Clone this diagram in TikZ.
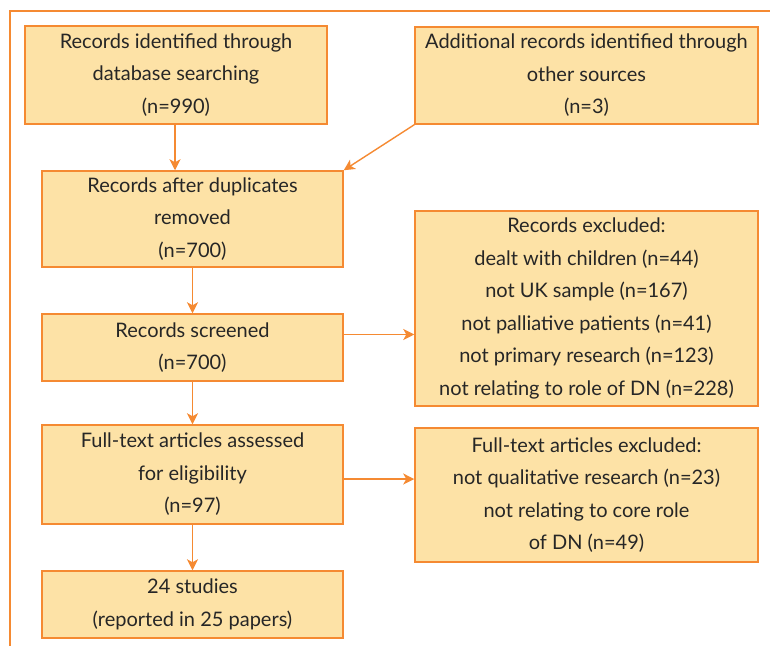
\documentclass[tikz,border=0pt]{standalone}
\usepackage{fontspec}
\setmainfont{Lato}
\usetikzlibrary{arrows.meta,calc}
\definecolor{boxfill}{HTML}{FDE2A6}
\definecolor{boxline}{HTML}{F58A32}
\definecolor{txt}{HTML}{262626}
\tikzset{
  flowbox/.style={draw=boxline, fill=boxfill, line width=1.5pt, rectangle, inner sep=0pt,
    align=center, text=txt, font=\fontsize{20}{32.5}\selectfont},
  flowarrow/.style={draw=boxline, line width=1.4pt, -{Stealth[length=11pt,width=11pt,inset=3pt]}},
  framestyle/.style={draw=boxline, line width=1.3pt}
}
\begin{document}
\begin{tikzpicture}[x=1pt,y=-1pt]
\useasboundingbox (0,0) rectangle (770,646);
\draw[framestyle] (10,646) -- (10,11) -- (770,11);
\node[flowbox, minimum width=302pt, minimum height=98pt] (b1) at (176,75)
  {Records identified through\\database searching\\(n=990)};
\node[flowbox, minimum width=343pt, minimum height=97pt] (b2) at (586.5,75.5)
  {Additional records identified through\\other sources\\(n=3)};
\node[flowbox, minimum width=301pt, minimum height=96pt] (b3) at (192.5,219)
  {Records after duplicates\\removed\\(n=700)};
\node[flowbox, minimum width=301pt, minimum height=67pt] (b4) at (192.5,347.5)
  {Records screened\\(n=700)};
\node[flowbox, minimum width=343pt, minimum height=195pt] (b5) at (586.5,308.5)
  {Records excluded:\\dealt with children (n=44)\\not UK sample (n=167)\\not palliative patients (n=41)\\not primary research (n=123)\\not relating to role of DN (n=228)};
\node[flowbox, minimum width=301pt, minimum height=99pt] (b6) at (192.5,474.5)
  {Full-text articles assessed\\for eligibility\\(n=97)};
\node[flowbox, minimum width=343pt, minimum height=134pt] (b7) at (586.5,495)
  {Full-text articles excluded:\\not qualitative research (n=23)\\not relating to core role\\of DN (n=49)};
\node[flowbox, minimum width=301pt, minimum height=67pt] (b8) at (192.5,604.5)
  {24 studies\\(reported in 25 papers)};
\coordinate (b1s) at (175,124);
\draw[flowarrow] (b1s) -- (b1s |- b3.north);
\draw[flowarrow] (b2.south west) -- (b3.north east);
\draw[flowarrow] (b3.south) -- (b4.north);
\coordinate (b4e) at ($(b4.north east)!0.31!(b4.south east)$);
\draw[flowarrow] (b4e) -- (b4e -| b5.west);
\draw[flowarrow] (b4.south) -- (b6.north);
\coordinate (b6e) at ($(b6.north east)!0.545!(b6.south east)$);
\draw[flowarrow] (b6e) -- (b6e -| b7.west);
\draw[flowarrow] (b6.south) -- (b8.north);
\end{tikzpicture}
\end{document}
